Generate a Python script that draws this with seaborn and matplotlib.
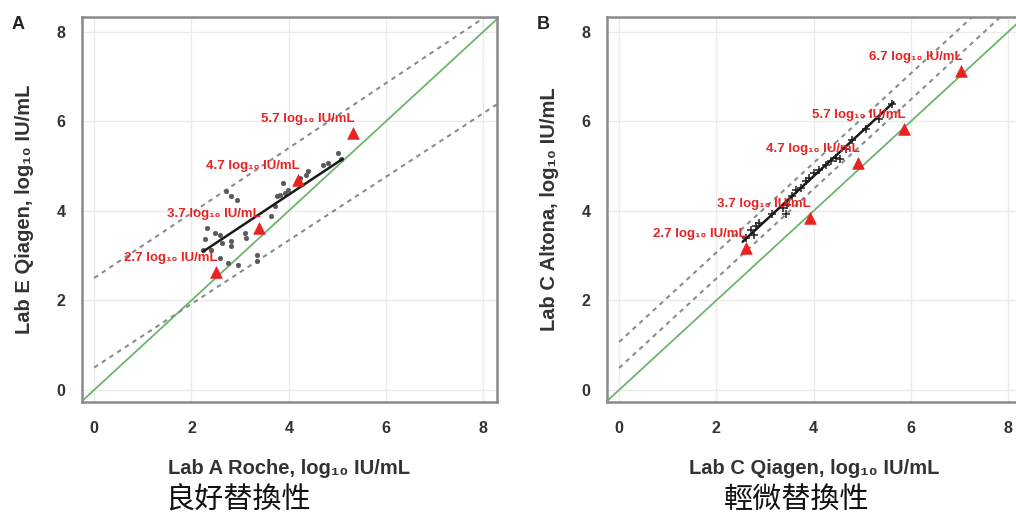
import numpy as np
import pandas as pd
import matplotlib
matplotlib.use("Agg")
import matplotlib.pyplot as plt
import seaborn as sns

# ---------------- data ----------------
# Panel A: Lab A Roche (x) vs Lab E Qiagen (y)
a_x = [5.01, 5.08, 4.81, 4.40, 4.23, 3.88, 3.92, 3.99, 3.82, 3.64, 3.71, 2.72, 2.82, 2.93,
       2.31, 2.48, 2.58, 2.28, 2.62, 2.82, 2.82, 3.10, 3.13, 2.41, 2.58, 2.76, 2.96, 3.34,
       3.34, 2.24, 4.70, 4.36, 3.75]
a_y = [5.30, 5.15, 5.07, 4.88, 4.74, 4.62, 4.40, 4.47, 4.36, 3.88, 4.10, 4.44, 4.33, 4.25,
       3.62, 3.51, 3.47, 3.36, 3.28, 3.32, 3.21, 3.51, 3.39, 3.13, 2.95, 2.83, 2.80, 3.02,
       2.87, 3.13, 5.03, 4.81, 4.33]
a_ref_x = [2.50, 3.39, 4.19, 5.32]
a_ref_y = [2.64, 3.62, 4.68, 5.74]
a_ref_labels = ["2.7", "3.7", "4.7", "5.7"]
a_fit_x = [2.24, 5.11]
a_fit_y = [3.09, 5.16]
a_band_intercepts = [2.50, 0.50]
a_band_slopes = [0.725, 0.71]

# Panel B: Lab C Qiagen (x) vs Lab C Altona (y)
b_x = [2.61, 2.71, 2.81, 2.88, 2.78, 3.15, 3.36, 3.43, 3.46, 3.56, 3.63, 3.73, 3.84, 3.90,
       4.01, 4.11, 4.25, 4.35, 4.45, 4.55, 4.66, 4.79, 5.07, 5.34, 5.61]
b_y = [3.39, 3.58, 3.65, 3.73, 3.47, 3.92, 4.06, 3.92, 4.14, 4.33, 4.47, 4.51, 4.66, 4.73,
       4.85, 4.92, 5.03, 5.11, 5.18, 5.15, 5.37, 5.59, 5.82, 6.04, 6.38]
b_ref_x = [2.60, 3.92, 4.92, 5.85, 7.03]
b_ref_y = [3.17, 3.84, 5.07, 5.82, 7.12]
b_ref_labels = ["2.7", "3.7", "4.7", "5.7", "6.7"]
b_fit_x = [2.54, 5.64]
b_fit_y = [3.31, 6.42]
b_band_intercepts = [1.07, 0.49]
b_band_slopes = [1.00, 1.00]

ticks = [0, 2, 4, 6, 8]
panel_letters = ["A", "B"]
x_labels = ["Lab A Roche, log\u2081\u2080 IU/mL", "Lab C Qiagen, log\u2081\u2080 IU/mL"]
y_labels = ["Lab E Qiagen, log\u2081\u2080 IU/mL", "Lab C Altona, log\u2081\u2080 IU/mL"]
captions = ["良好替換性", "輕微替換性"]

# ---------------- styling ----------------
sns.set_theme(style="white")
plt.rcParams["font.family"] = ["Liberation Sans", "DejaVu Sans"]

fig = plt.figure(figsize=(10.16, 5.17), dpi=100)
ax_pos = [[0.0807, 0.2224, 0.408, 0.745], [0.5974, 0.2224, 0.408, 0.745]]

GRAY_TXT = "#333333"
RED = "#e82222"

panels = [
    (a_x, a_y, a_ref_x, a_ref_y, a_ref_labels, a_fit_x, a_fit_y, a_band_intercepts, a_band_slopes, "o"),
    (b_x, b_y, b_ref_x, b_ref_y, b_ref_labels, b_fit_x, b_fit_y, b_band_intercepts, b_band_slopes, "+"),
]

for i, (px, py, rx, ry, rl, fx, fy, bi, bs, mk) in enumerate(panels):
    ax = fig.add_axes(ax_pos[i])
    ax.set_xlim(-0.25, 8.27)
    ax.set_ylim(-0.27, 8.33)

    # grid
    ax.set_xticks(ticks)
    ax.set_yticks(ticks)
    ax.grid(True, color="#ebebeb", lw=1.0)
    ax.set_axisbelow(True)

    # identity line
    ax.axline((0, 0), slope=1, color="#6cb56c", lw=1.3, zorder=2)

    # dashed limits
    for c, s in zip(bi, bs):
        xs = np.array([0.0, 8.4])
        dfl = pd.DataFrame({"x": xs, "y": c + s * xs})
        sns.lineplot(data=dfl, x="x", y="y", ax=ax, color="#8c8c8c", lw=1.5,
                     linestyle=(0, (2.2, 2.2)), zorder=2)

    # points
    dfp = pd.DataFrame({"x": px, "y": py})
    if mk == "o":
        sns.scatterplot(data=dfp, x="x", y="y", ax=ax, marker="o", s=11,
                        color="#595959", edgecolor="#595959", linewidth=0.4, zorder=3)
    else:
        sns.scatterplot(data=dfp, x="x", y="y", ax=ax, marker="+", s=28,
                        color="#222222", linewidth=1.1, zorder=3)

    # fit line
    dff = pd.DataFrame({"x": fx, "y": fy})
    sns.lineplot(data=dff, x="x", y="y", ax=ax, color="#1a1a1a", lw=1.8, zorder=4)

    # reference triangles
    dfr = pd.DataFrame({"x": rx, "y": ry, "lab": rl})
    sns.scatterplot(data=dfr, x="x", y="y", ax=ax, marker="^", s=70, color=RED,
                    edgecolor=RED, linewidth=0.5, zorder=5)
    for xx, yy, lab in zip(rx, ry, rl):
        ax.annotate(f"{lab} log\u2081\u2080 IU/mL", (xx, yy), xytext=(1, 10),
                    textcoords="offset points", ha="right", va="center",
                    color=RED, fontsize=9.5, fontweight="bold", zorder=6)

    # spines / ticks
    for sp in ax.spines.values():
        sp.set_visible(True)
        sp.set_color("#8a8a8a")
        sp.set_linewidth(1.8)
    ax.tick_params(axis="both", length=0, labelsize=11.5, labelcolor=GRAY_TXT)
    ax.tick_params(axis="x", pad=14)
    ax.tick_params(axis="y", pad=12)
    for t in ax.get_xticklabels() + ax.get_yticklabels():
        t.set_fontweight("bold")
    ax.set_xlabel(x_labels[i], fontsize=14.5, fontweight="bold", color=GRAY_TXT, labelpad=16)
    ax.set_ylabel(y_labels[i], fontsize=14.5, fontweight="bold", color=GRAY_TXT, labelpad=16)

    left_px = ax_pos[i][0] * 1016
    fig.text((left_px - 64) / 1016, 0.952, panel_letters[i], fontsize=13,
             fontweight="bold", color="#222222", ha="center", va="center")

fig.text(0.234, 0.032, captions[0], fontsize=21, ha="center", va="center",
         family=["Noto Sans CJK TC", "DejaVu Sans"], color="#111111")
fig.text(0.784, 0.032, captions[1], fontsize=21, ha="center", va="center",
         family=["Noto Sans CJK TC", "DejaVu Sans"], color="#111111")

fig.savefig("out.png", dpi=100)
